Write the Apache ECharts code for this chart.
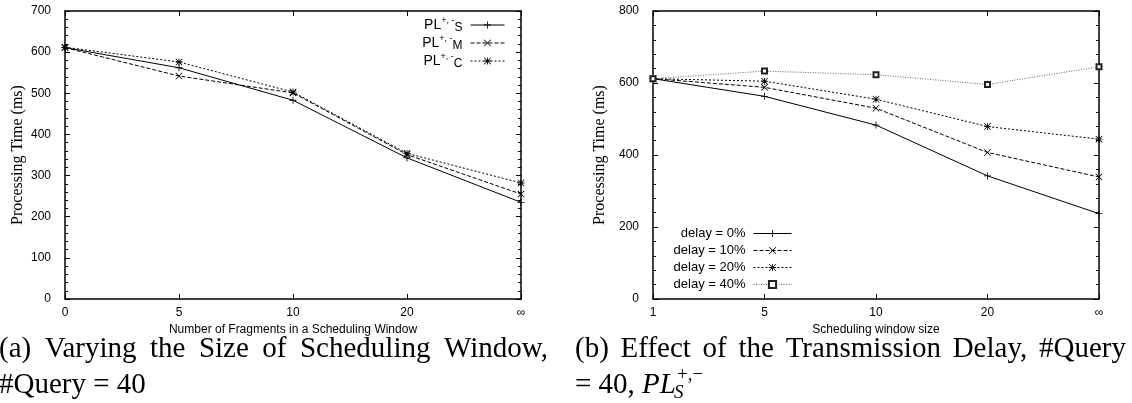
<!DOCTYPE html>
<html>
<head>
<meta charset="utf-8">
<script src="https://cdn.jsdelivr.net/npm/echarts@6/dist/echarts.min.js"></script>
<style>
html, body { margin: 0; padding: 0; background: #fff; }
#chart { width: 1132px; height: 403px; }
</style>
</head>
<body>
<div id="chart"></div>
<script>
// Panel (a): processing time vs. number of fragments in a scheduling window
const windowCatsA = ['0', '5', '10', '20', '\u221e'];
const seriesNamesA = ['S', 'M', 'C'];
const plS = [611, 562, 483, 343, 235];
const plM = [611, 542, 501, 351, 255];
const plC = [612, 576, 503, 354, 282];
const yMaxA = 700;
const yStepA = 100;

// Panel (b): effect of the transmission delay
const windowCatsB = ['1', '5', '10', '20', '\u221e'];
const seriesNamesB = ['delay = 0%', 'delay = 10%', 'delay = 20%', 'delay = 40%'];
const delay0 = [612, 563, 483, 342, 237];
const delay10 = [612, 588, 530, 407, 339];
const delay20 = [612, 605, 555, 479, 444];
const delay40 = [612, 633, 623, 596, 645];
const yMaxB = 800;
const yStepB = 200;

// Point markers in gnuplot style
const SYM_PLUS = 'path://M4.4,0H5.6V4.4H10V5.6H5.6V10H4.4V5.6H0V4.4H4.4Z';
const SYM_CROSS = 'path://M0.8,0L5,4.2L9.2,0L10,0.8L5.8,5L10,9.2L9.2,10L5,5.8L0.8,10L0,9.2L4.2,5L0,0.8Z';
const SYM_STAR = SYM_PLUS + 'M0.8,0L5,4.2L9.2,0L10,0.8L5.8,5L10,9.2L9.2,10L5,5.8L0.8,10L0,9.2L4.2,5L0,0.8Z';

const SANS = '"Liberation Sans", Arial, sans-serif';
const SERIF = '"Liberation Serif", "Times New Roman", serif';

const chart = echarts.init(document.getElementById('chart'), null, { renderer: 'canvas' });

function xAxes(grid, cats, name, top) {
  return {
    type: 'category', gridIndex: grid, data: cats, boundaryGap: false,
    position: top ? 'top' : 'bottom',
    name: top ? '' : name, nameLocation: 'middle', nameGap: 21,
    nameTextStyle: { fontFamily: SANS, fontSize: 12, color: '#000' },
    axisLine: { show: true, onZero: false, lineStyle: { color: '#000', width: 1.5 } },
    axisTick: { show: true, inside: true, length: 5, lineStyle: { color: '#000' } },
    axisLabel: { show: !top, interval: 0, margin: 8, fontFamily: SANS, fontSize: 12, color: '#000' },
    splitLine: { show: false }
  };
}

function yAxes(grid, max, step, right, titleGap) {
  return {
    type: 'value', gridIndex: grid, min: 0, max: max, interval: step,
    position: right ? 'right' : 'left',
    name: right ? '' : 'Processing Time (ms)', nameLocation: 'middle', nameGap: titleGap, nameRotate: 90,
    nameTextStyle: { fontFamily: SERIF, fontSize: 16, color: '#000' },
    axisLine: { show: true, onZero: false, lineStyle: { color: '#000', width: 1.5 } },
    axisTick: { show: true, inside: true, length: 5, lineStyle: { color: '#000' } },
    minorTick: { show: true, splitNumber: 5, length: 3, lineStyle: { color: '#000' } },
    axisLabel: { show: !right, margin: 14, fontFamily: SANS, fontSize: 12, color: '#000' },
    splitLine: { show: false }
  };
}

function line(name, data, xi, yi, symbol, dash, lineColor, markColor) {
  const empty = symbol === 'emptyRect';
  return {
    type: 'line', name: name, data: data, xAxisIndex: xi, yAxisIndex: yi,
    symbol: symbol, symbolSize: empty ? 5 : 7, showSymbol: true,
    lineStyle: { color: lineColor, width: 1, type: dash },
    itemStyle: { color: markColor, borderColor: markColor, borderWidth: empty ? 1 : 0 },
    animation: false, silent: true
  };
}

// Captions below each panel, justified like typeset subcaptions
const measureCtx = document.createElement('canvas').getContext('2d');
function textWidth(t, font) { measureCtx.font = font; return measureCtx.measureText(t).width; }
const CAP_FONT = '29px ' + SERIF;
const CAP_IT = 'italic 29px ' + SERIF;
const SMALL_FONT = '19px ' + SERIF;
const SMALL_IT = 'italic 19px ' + SERIF;

function textEl(t, x, y, font) {
  return { type: 'text', x: x, y: y, silent: true,
    style: { text: t, font: font, fill: '#000', verticalAlign: 'middle', align: 'left' } };
}
function justified(words, x0, x1, y) {
  const w = words.map(s => textWidth(s, CAP_FONT));
  const gap = (x1 - x0 - w.reduce((a, b) => a + b, 0)) / (words.length - 1);
  const out = [];
  let x = x0;
  words.forEach((s, i) => { out.push(textEl(s, x, y, CAP_FONT)); x += w[i] + gap; });
  return out;
}

const capY1 = 349, capY2 = 385;
const captions = []
  .concat(justified(['(a)', 'Varying', 'the', 'Size', 'of', 'Scheduling', 'Window,'], -1, 548, capY1))
  .concat([textEl('#Query = 40', -1, capY2, CAP_FONT)])
  .concat(justified(['(b)', 'Effect', 'of', 'the', 'Transmission', 'Delay,', '#Query'], 575, 1126, capY1));
(function () {
  const lead = '= 40, ';
  let x = 575;
  captions.push(textEl(lead, x, capY2, CAP_FONT));
  x += textWidth(lead, CAP_FONT);
  captions.push(textEl('PL', x, capY2, CAP_IT));
  x += textWidth('PL', CAP_IT);
  captions.push(textEl('+,\u2212', x + 1, capY2 - 10, SMALL_FONT));
  captions.push(textEl('S', x - 2, capY2 + 8, SMALL_IT));
})();

const option = {
  backgroundColor: '#fff',
  animation: false,
  grid: [
    { left: 65, top: 11, width: 456, height: 288, containLabel: false },
    { left: 653, top: 11, width: 446, height: 288, containLabel: false }
  ],
  xAxis: [
    xAxes(0, windowCatsA, 'Number of Fragments in a Scheduling Window', false),
    xAxes(0, windowCatsA, '', true),
    xAxes(1, windowCatsB, 'Scheduling window size', false),
    xAxes(1, windowCatsB, '', true)
  ],
  yAxis: [
    yAxes(0, yMaxA, yStepA, false, 39),
    yAxes(0, yMaxA, yStepA, true, 0),
    yAxes(1, yMaxB, yStepB, false, 45),
    yAxes(1, yMaxB, yStepB, true, 0)
  ],
  legend: [
    {
      data: seriesNamesA, orient: 'vertical', right: 1132 - 510, top: 11, align: 'right',
      itemWidth: 34, itemHeight: 9, itemGap: 0, selectedMode: false,
      lineStyle: { width: 1 },
      formatter: n => '{pl|PL}{sup|+, -}{sub|' + n + '}',
      textStyle: {
        color: '#000', fontFamily: SANS, padding: [0, 3, 0, 0],
        rich: {
          pl: { fontFamily: SANS, fontSize: 14, lineHeight: 18, verticalAlign: 'middle', color: '#000' },
          sup: { fontFamily: SANS, fontSize: 9, lineHeight: 9, verticalAlign: 'top', color: '#000' },
          sub: { fontFamily: SANS, fontSize: 12, lineHeight: 10, verticalAlign: 'bottom', color: '#000' }
        }
      }
    },
    {
      data: seriesNamesB, orient: 'vertical', right: 1132 - 797, top: 222, align: 'right',
      itemWidth: 38, itemHeight: 9, itemGap: 4, selectedMode: false,
      lineStyle: { width: 1 },
      textStyle: { color: '#000', fontFamily: SANS, fontSize: 13, padding: [0, 3, 0, 0] }
    }
  ],
  series: [
    line('S', plS, 0, 0, SYM_PLUS, 'solid', '#000', '#000'),
    line('M', plM, 0, 0, SYM_CROSS, [4, 2], '#000', '#000'),
    line('C', plC, 0, 0, SYM_STAR, [2, 2], '#000', '#000'),
    line('delay = 0%', delay0, 2, 2, SYM_PLUS, 'solid', '#000', '#000'),
    line('delay = 10%', delay10, 2, 2, SYM_CROSS, [4, 2], '#000', '#000'),
    line('delay = 20%', delay20, 2, 2, SYM_STAR, [2, 2], '#000', '#000'),
    line('delay = 40%', delay40, 2, 2, 'emptyRect', [1, 1.5], '#666', '#222')
  ],
  graphic: captions
};

chart.setOption(option);
</script>
</body>
</html>
